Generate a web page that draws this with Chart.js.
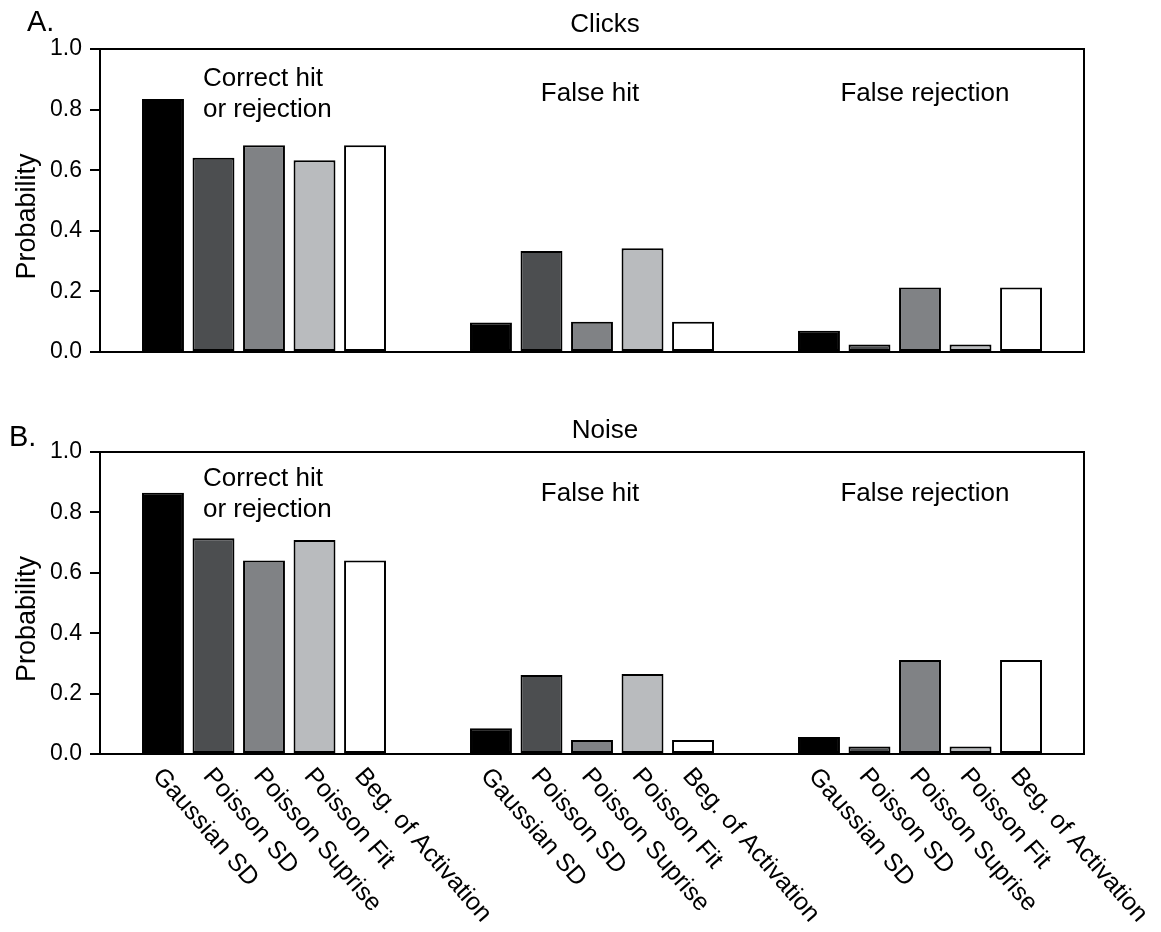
<!DOCTYPE html>
<html>
<head>
<meta charset="utf-8">
<script src="https://cdn.jsdelivr.net/npm/chart.js@4.4.1/dist/chart.umd.min.js"></script>
<style>
  body { margin: 0; background: #fff; }
  #wrap { position: relative; width: 1161px; height: 932px; }
  canvas { position: absolute; left: 0; }
  #clicks-canvas { top: 0; }
  #noise-canvas { top: 400px; }
</style>
</head>
<body>
<div id="wrap">
  <canvas id="clicks-canvas" width="1161" height="400"></canvas>
  <canvas id="noise-canvas" width="1161" height="532"></canvas>
</div>
<script>
const categories = ['Correct hit or rejection', 'False hit', 'False rejection'];
const methods = ['Gaussian SD', 'Poisson SD', 'Poisson Suprise', 'Poisson Fit', 'Beg. of Activation'];
const barColors = ['#000000', '#4c4e50', '#808285', '#b9bbbe', '#ffffff'];
const yTicks = [0, 0.2, 0.4, 0.6, 0.8, 1.0];

// A. Clicks
const clicksGaussianSD = [0.835, 0.097, 0.070];
const clicksPoissonSD = [0.641, 0.333, 0.025];
const clicksPoissonSurprise = [0.682, 0.100, 0.213];
const clicksPoissonFit = [0.633, 0.342, 0.025];
const clicksBegActivation = [0.682, 0.100, 0.213];

// B. Noise
const noiseGaussianSD = [0.865, 0.085, 0.056];
const noisePoissonSD = [0.714, 0.262, 0.025];
const noisePoissonSurprise = [0.641, 0.046, 0.311];
const noisePoissonFit = [0.709, 0.265, 0.025];
const noiseBegActivation = [0.641, 0.046, 0.311];

const FONT = '"Liberation Sans", Arial, sans-serif';
Chart.defaults.font.family = FONT;
Chart.defaults.color = '#000';

// text drawn on top of the bars: panel letter, title, group names, y title, rotated method names
const annotationPlugin = {
  id: 'annotations',
  afterDraw(chart, args, opts) {
    const ctx = chart.ctx;
    const area = chart.chartArea;
    const xScale = chart.scales.x;
    ctx.save();
    ctx.fillStyle = '#000';

    // box round the plot
    ctx.strokeStyle = '#000';
    ctx.lineWidth = 2;
    ctx.strokeRect(area.left, area.top, area.right - area.left, area.bottom - area.top);

    ctx.font = `29px ${FONT}`;
    ctx.textBaseline = 'alphabetic';
    ctx.textAlign = 'left';
    ctx.fillText(opts.letter, opts.letterX, opts.letterY);

    ctx.font = `26px ${FONT}`;
    ctx.textAlign = 'center';
    ctx.textBaseline = 'middle';
    ctx.fillText(opts.title, 605, opts.titleY);

    // group names
    const c0 = xScale.getPixelForValue(0);
    ctx.textAlign = 'left';
    ctx.fillText('Correct hit', c0 - 61, 79);
    ctx.fillText('or rejection', c0 - 61, 110);
    ctx.textAlign = 'center';
    ctx.fillText(categories[1], xScale.getPixelForValue(1) - 2, 94);
    ctx.fillText(categories[2], xScale.getPixelForValue(2) + 5, 94);

    // y title
    ctx.save();
    ctx.font = `27px ${FONT}`;
    ctx.translate(28, (area.top + area.bottom) / 2 + 16);
    ctx.rotate(-Math.PI / 2);
    ctx.fillText('Probability', 0, 0);
    ctx.restore();

    // rotated method names under each bar
    if (opts.showMethods) {
      ctx.font = `25px ${FONT}`;
      ctx.textAlign = 'left';
      ctx.textBaseline = 'middle';
      chart.data.datasets.forEach((ds, di) => {
        const meta = chart.getDatasetMeta(di);
        meta.data.forEach(bar => {
          ctx.save();
          ctx.translate(bar.x - 6, area.bottom + 18);
          ctx.rotate(49 * Math.PI / 180);
          ctx.fillText(ds.label, 0, 0);
          ctx.restore();
        });
      });
    }
    ctx.restore();
  }
};

function buildChart(canvasId, seriesList, plotTop, plotBottom, annot) {
  const canvas = document.getElementById(canvasId);
  return new Chart(canvas, {
    type: 'bar',
    data: {
      labels: categories,
      datasets: seriesList.map((values, i) => ({
        label: methods[i],
        data: values,
        backgroundColor: barColors[i],
        borderColor: '#000',
        borderWidth: 2,
        borderSkipped: false,
        categoryPercentage: 0.77,
        barPercentage: 0.83
      }))
    },
    options: {
      responsive: false,
      animation: false,
      devicePixelRatio: 1,
      layout: { padding: { top: plotTop, right: 77, bottom: canvas.height - plotBottom, left: 0 } },
      plugins: {
        legend: { display: false },
        tooltip: { enabled: false },
        annotations: annot
      },
      scales: {
        x: { display: false },
        y: {
          min: 0,
          max: 1,
          afterBuildTicks: (scale) => { scale.ticks = yTicks.map(v => ({ value: v })); },
          afterFit: (scale) => { scale.width = 100; },
          ticks: {
            font: { size: 23 },
            color: '#000',
            padding: 8,
            callback: (v) => Number(v).toFixed(1)
          },
          grid: { drawOnChartArea: false, drawTicks: true, tickLength: 10, color: '#000', lineWidth: 2 },
          border: { display: true, color: '#000', width: 2 }
        }
      }
    },
    plugins: [annotationPlugin]
  });
}

buildChart('clicks-canvas',
  [clicksGaussianSD, clicksPoissonSD, clicksPoissonSurprise, clicksPoissonFit, clicksBegActivation],
  49, 352,
  { letter: 'A.', letterX: 27, letterY: 31, title: 'Clicks', titleY: 25, showMethods: false });

buildChart('noise-canvas',
  [noiseGaussianSD, noisePoissonSD, noisePoissonSurprise, noisePoissonFit, noiseBegActivation],
  52, 354,
  { letter: 'B.', letterX: 9, letterY: 46, title: 'Noise', titleY: 31, showMethods: true });
</script>
</body>
</html>
